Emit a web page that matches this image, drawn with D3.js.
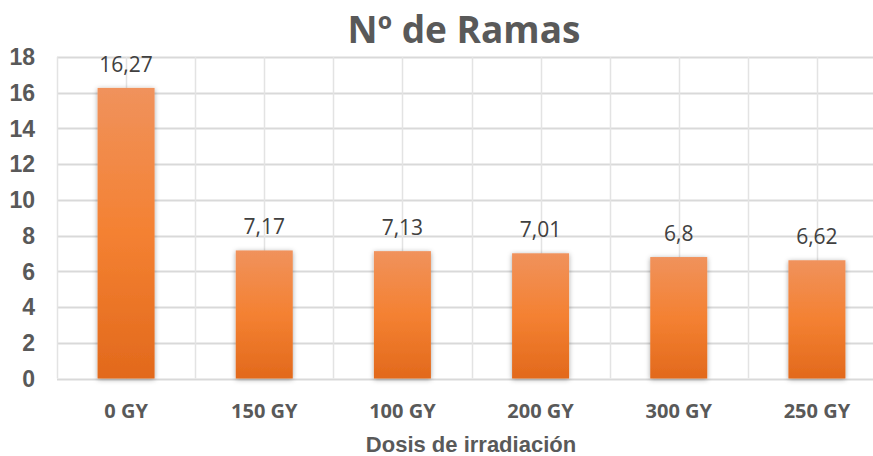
<!DOCTYPE html>
<html>
<head>
<meta charset="utf-8">
<script src="https://cdn.jsdelivr.net/npm/d3@7"></script>
<style>
  body { margin: 0; background: #fff; }
  svg { display: block; }
</style>
</head>
<body>
<div id="chart"></div>
<script>
// Data
const categories = ['0 GY', '150 GY', '100 GY', '200 GY', '300 GY', '250 GY'];
const values = [16.27, 7.17, 7.13, 7.01, 6.8, 6.62];
const valueLabels = ['16,27', '7,17', '7,13', '7,01', '6,8', '6,62'];
const yTicks = [0, 2, 4, 6, 8, 10, 12, 14, 16, 18];

const W = 873, H = 456;
const plot = { left: 57, right: 886, top: 57, bottom: 378.5 };

const svg = d3.select('#chart').append('svg')
  .attr('width', W)
  .attr('height', H);

const defs = svg.append('defs');
const grad = defs.append('linearGradient')
  .attr('id', 'barGrad')
  .attr('x1', 0).attr('y1', 0).attr('x2', 0).attr('y2', 1);
grad.append('stop').attr('offset', '0%').attr('stop-color', '#F0925C');
grad.append('stop').attr('offset', '50%').attr('stop-color', '#F48132');
grad.append('stop').attr('offset', '100%').attr('stop-color', '#E2691C');

const shadow = defs.append('filter').attr('id', 'shadow')
  .attr('x', '-30%').attr('y', '-10%').attr('width', '160%').attr('height', '130%');
shadow.append('feDropShadow')
  .attr('dx', 0).attr('dy', 1)
  .attr('stdDeviation', 2.5)
  .attr('flood-color', '#000')
  .attr('flood-opacity', 0.35);

const x = d3.scaleBand()
  .domain(categories)
  .range([plot.left, plot.right]);

const y = d3.scaleLinear()
  .domain([0, 18])
  .range([plot.bottom, plot.top]);

// Horizontal grid
svg.append('g')
  .selectAll('line')
  .data(yTicks)
  .join('line')
  .attr('x1', plot.left)
  .attr('x2', plot.right)
  .attr('y1', d => Math.round(y(d)) + 0.5)
  .attr('y2', d => Math.round(y(d)) + 0.5)
  .attr('stroke', '#D9D9D9')
  .attr('stroke-width', 2);

// Vertical grid at category edges and centers
const vLines = [];
categories.forEach(c => {
  vLines.push(x(c));
  vLines.push(x(c) + x.bandwidth() / 2);
});
svg.append('g')
  .selectAll('line')
  .data(vLines)
  .join('line')
  .attr('x1', d => Math.round(d) + 0.5)
  .attr('x2', d => Math.round(d) + 0.5)
  .attr('y1', plot.top)
  .attr('y2', plot.bottom)
  .attr('stroke', '#E3E3E3')
  .attr('stroke-width', 1.5);

// Bars
const barW = 57;
svg.append('g')
  .selectAll('rect')
  .data(values)
  .join('rect')
  .attr('x', (d, i) => x(categories[i]) + x.bandwidth() / 2 - barW / 2)
  .attr('y', d => y(d))
  .attr('width', barW)
  .attr('height', d => plot.bottom - y(d))
  .attr('fill', 'url(#barGrad)')
  .attr('filter', 'url(#shadow)');

// Value labels
svg.append('g')
  .selectAll('text')
  .data(values)
  .join('text')
  .attr('x', (d, i) => x(categories[i]) + x.bandwidth() / 2)
  .attr('y', d => y(d) - 16)
  .attr('text-anchor', 'middle')
  .attr('font-family', '"Open Sans", sans-serif')
  .attr('font-size', 21)
  .attr('fill', '#404040')
  .text((d, i) => valueLabels[i]);

// Y axis labels
svg.append('g')
  .selectAll('text')
  .data(yTicks)
  .join('text')
  .attr('x', 35)
  .attr('y', d => y(d))
  .attr('dy', '0.36em')
  .attr('text-anchor', 'end')
  .attr('font-family', '"Liberation Sans", Arial, sans-serif')
  .attr('font-weight', 'bold')
  .attr('font-size', 23)
  .attr('fill', '#595959')
  .text(d => d);

// X axis labels
svg.append('g')
  .selectAll('text')
  .data(categories)
  .join('text')
  .attr('x', d => x(d) + x.bandwidth() / 2)
  .attr('y', 418)
  .attr('text-anchor', 'middle')
  .attr('font-family', '"Open Sans", sans-serif')
  .attr('font-weight', 'bold')
  .attr('font-size', 20)
  .attr('fill', '#595959')
  .text(d => d);

// Axis title
svg.append('text')
  .attr('x', 471)
  .attr('y', 452)
  .attr('text-anchor', 'middle')
  .attr('font-family', '"Liberation Sans", Arial, sans-serif')
  .attr('font-weight', 'bold')
  .attr('font-size', 22)
  .attr('fill', '#595959')
  .text('Dosis de irradiación');

// Title
svg.append('text')
  .attr('x', 464)
  .attr('y', 43)
  .attr('text-anchor', 'middle')
  .attr('font-family', '"Open Sans", sans-serif')
  .attr('font-weight', 'bold')
  .attr('font-size', 37)
  .attr('fill', '#595959')
  .text('Nº de Ramas');
</script>
</body>
</html>
